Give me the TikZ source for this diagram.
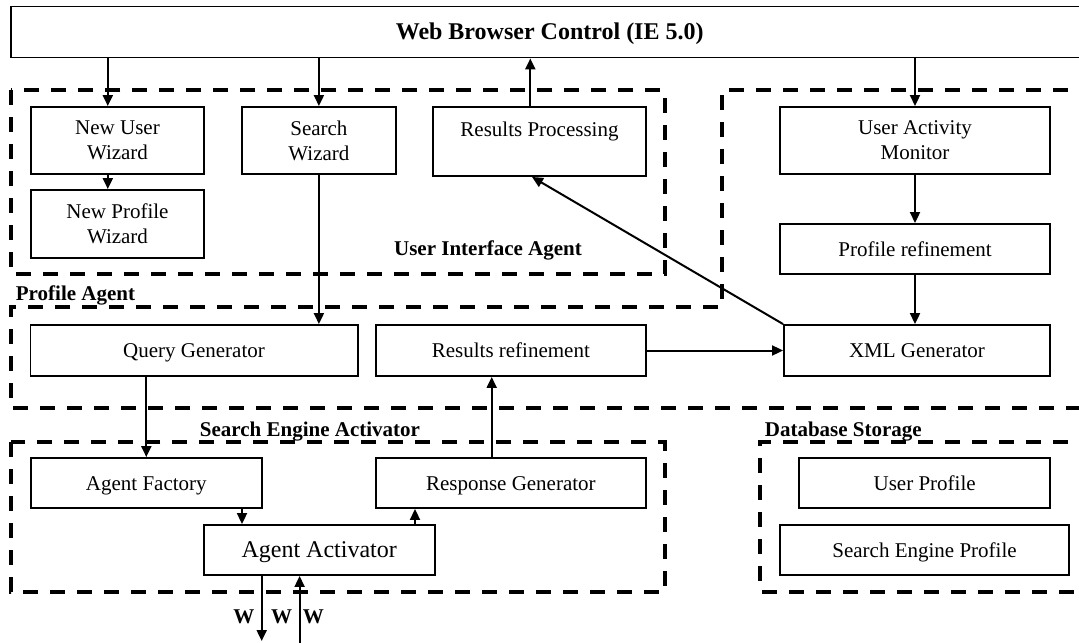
\documentclass[tikz,border=0pt]{standalone}
\usepackage{fontspec}
\setmainfont{Liberation Serif}
\usetikzlibrary{arrows.meta}
\begin{document}
\begin{tikzpicture}[x=0.5pt,y=-0.5pt,
  box/.style={draw,line width=0.95pt,inner sep=0pt,align=center,font=\fontsize{10.5}{12.6}\selectfont},
  one/.style={text height=0.8em,text depth=0.08em},
  region/.style={draw,line width=2pt,dash pattern=on 7.5pt off 6pt},
  arr/.style={line width=1pt,-{Triangle[length=5.5pt,width=5pt]}},
  lab/.style={font=\fontsize{10.5}{12.6}\selectfont\bfseries,inner sep=0pt}]
\clip (0,0) rectangle (1079,642);
\fill[white] (0,0) rectangle (1079,642);
% regions
\draw[region] (11,90) rectangle (664.7,274);
\draw[region] (1095,90) -- (721.8,90) -- (721.8,307) -- (11,307) -- (11,408) -- (1095,408);
\draw[region] (11,442) rectangle (664.7,592);
\draw[region] (1095,442) -- (760.4,442) -- (760.4,592) -- (1095,592);
% boxes
\node[box,one,minimum width=538.3pt,minimum height=25.5pt,font=\fontsize{12}{14}\selectfont\bfseries] (web) at (549.7,32) {Web Browser Control (IE 5.0)};
\node[box,minimum width=86.85pt,minimum height=33.5pt] (nuw) at (117.5,140.5) {New User\\Wizard};
\node[box,minimum width=86.85pt,minimum height=34pt] (npw) at (117.5,224) {New Profile\\Wizard};
\node[box,minimum width=77.15pt,minimum height=33.5pt] (sw) at (318.9,140.5) {Search\\Wizard};
\node[box,minimum width=106.25pt,minimum height=34.5pt] (rp) at (539.5,141.5) {Results Processing\\\mbox{}};
\node[box,minimum width=135pt,minimum height=33.5pt] (uam) at (915,140.5) {User Activity\\Monitor};
\node[box,one,minimum width=135pt,minimum height=25pt] (pr) at (915,249) {Profile refinement};
\node[box,one,minimum width=163.55pt,minimum height=25.5pt] (qg) at (194,350.5) {Query Generator};
\node[box,one,minimum width=134.85pt,minimum height=25.5pt] (rr) at (510.85,350.5) {Results refinement};
\node[box,one,minimum width=133pt,minimum height=25.5pt] (xml) at (917,350.5) {XML Generator};
\node[box,one,minimum width=115.7pt,minimum height=25pt] (af) at (146.3,483) {Agent Factory};
\node[box,one,minimum width=134.85pt,minimum height=25pt] (rg) at (510.85,483) {Response Generator};
\node[box,one,minimum width=115.35pt,minimum height=25pt,font=\fontsize{12}{14}\selectfont] (aa) at (319.2,550) {Agent Activator};
\node[box,one,minimum width=125.35pt,minimum height=25pt] (up) at (924.65,483) {User Profile};
\node[box,one,minimum width=144.5pt,minimum height=25pt] (sep) at (924.5,550) {Search Engine Profile};
% region labels
\node[lab,one] (luia) at (488,248) {User Interface Agent};
\node[lab,one,anchor=west] (lpa) at (15.5,293) {Profile Agent};
\node[lab,one] (lsea) at (310,429) {Search Engine Activator};
\node[lab,one,anchor=west] (lds) at (764.5,429) {Database Storage};
% W labels
\node[lab,one] (w1) at (243.8,616) {W};
\node[lab,one] (w2) at (281.7,616) {W};
\node[lab,one] (w3) at (313.4,616) {W};
% x helpers
\coordinate (xa) at (107.8,0);
\coordinate (xb) at (530.3,0);
\coordinate (xd) at (532,0);
\coordinate (xe) at (491.7,0);
\coordinate (xf) at (242,0);
\coordinate (xg) at (415,0);
\coordinate (outd) at (261.7,641);
\coordinate (inu) at (299.6,645);
% arrows
\draw[arr] (web.south -| xa) -- (nuw.north -| xa);
\draw[arr] (web.south -| sw) -- (sw.north);
\draw[arr] (rp.north -| xb) -- (web.south -| xb);
\draw[arr] (web.south -| uam) -- (uam.north);
\draw[arr] (nuw.south -| xa) -- (npw.north -| xa);
\draw[arr] (sw.south) -- (qg.north -| sw);
\draw[arr] (uam.south) -- (pr.north);
\draw[arr] (pr.south) -- (xml.north -| pr);
\draw[arr] (xml.north west) -- (rp.south -| xd);
\draw[arr] (rr.east) -- (xml.west);
\draw[arr] (qg.south -| af) -- (af.north);
\draw[arr] (rg.north -| xe) -- (rr.south -| xe);
\draw[arr] (af.south -| xf) -- (aa.north -| xf);
\draw[arr] (aa.north -| xg) -- (rg.south -| xg);
\draw[arr] (aa.south -| outd) -- (outd);
\draw[arr] (inu) -- (aa.south -| inu);
\end{tikzpicture}
\end{document}
